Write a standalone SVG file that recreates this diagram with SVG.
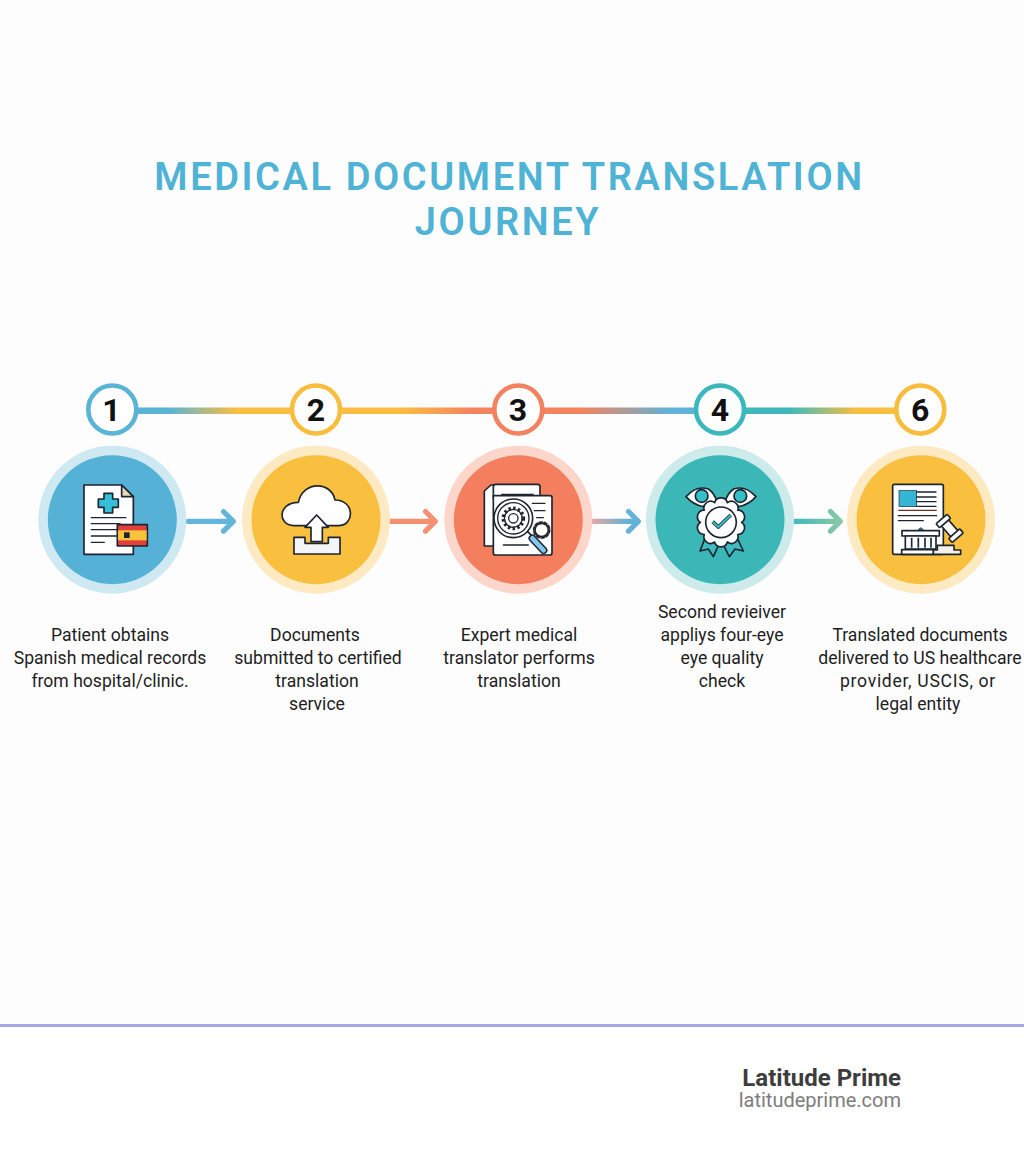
<svg xmlns="http://www.w3.org/2000/svg" width="1024" height="1154" viewBox="0 0 1024 1154">
<style>
text{font-family:Roboto,"Liberation Sans",sans-serif}
.title{font-size:38px;font-weight:600;fill:#4fb3d5;text-anchor:middle;letter-spacing:2.6px}
.num{font-size:32px;font-weight:700;fill:#111;text-anchor:middle}
.cap{font-size:17.6px;fill:#1e1e1e;text-anchor:middle}
.ol{stroke:#1d2530;stroke-width:5;stroke-linejoin:round;stroke-linecap:round}
.w{fill:#fff}
.ln{fill:none;stroke:#1d2530;stroke-width:4;stroke-linecap:round}
.bar{fill:none;stroke-width:6.500}
.arr{fill:none;stroke-width:5.200;stroke-linecap:round;stroke-linejoin:round}
.badge{fill:#fff;stroke-width:4.600}
</style>
<defs>
<linearGradient id="l1" gradientUnits="userSpaceOnUse" x1="138" y1="0" x2="290" y2="0"><stop offset=".2" stop-color="#5ab4d6"/><stop offset=".65" stop-color="#f9bf40"/></linearGradient>
<linearGradient id="l2" gradientUnits="userSpaceOnUse" x1="342" y1="0" x2="492" y2="0"><stop offset=".4" stop-color="#fbbd40"/><stop offset=".85" stop-color="#f5835f"/></linearGradient>
<linearGradient id="l3" gradientUnits="userSpaceOnUse" x1="544" y1="0" x2="694" y2="0"><stop offset=".25" stop-color="#f5835f"/><stop offset=".85" stop-color="#5fb3da"/></linearGradient>
<linearGradient id="l4" gradientUnits="userSpaceOnUse" x1="746" y1="0" x2="894" y2="0"><stop offset=".3" stop-color="#3fb9bc"/><stop offset=".75" stop-color="#f9bf40"/></linearGradient>
<linearGradient id="a3" gradientUnits="userSpaceOnUse" x1="592" y1="0" x2="640" y2="0"><stop offset="0" stop-color="#e3a9a0"/><stop offset=".75" stop-color="#63b2da"/></linearGradient>
<linearGradient id="a4" gradientUnits="userSpaceOnUse" x1="795" y1="0" x2="842" y2="0"><stop offset="0" stop-color="#45b9bc"/><stop offset="1" stop-color="#8bc9a4"/></linearGradient>
</defs>
<rect width="1024" height="1154" fill="#fdfdfd"/>
<rect y="1026" width="1024" height="128" fill="#fff"/>
<rect y="1024" width="1024" height="3" fill="#aaa7e0"/>
<g id="title">
<text class="title" x="509.500" y="190">MEDICAL DOCUMENT TRANSLATION</text>
<text class="title" x="508" y="235">JOURNEY</text>
</g>
<g id="connectors">
<path class="bar" stroke="url(#l1)" d="M136 410.700H292"/>
<path class="bar" stroke="url(#l2)" d="M340 410.700H494"/>
<path class="bar" stroke="url(#l3)" d="M542 410.700H696"/>
<path class="bar" stroke="url(#l4)" d="M744 410.700H896"/>
<path class="arr" stroke="#63b5db" d="M188 521.300H232M223.500 511.500l9.800 9.800L223.500 531.100"/>
<path class="arr" stroke="#f59072" d="M391 521.300H435M425.500 511.500l9.800 9.800L425.500 531.100"/>
<path class="arr" stroke="url(#a3)" d="M593 521.300H637M628.500 511.500l9.800 9.800L628.500 531.100"/>
<path class="arr" stroke="url(#a4)" d="M795 521.300H839M830.500 511.500l9.800 9.800L830.500 531.100"/>
</g>
<g id="step1">
<circle class="badge" cx="112.300" cy="409.500" r="24" stroke="#5ab4d6"/>
<text class="num" x="111.500" y="421">1</text>
<circle cx="112.300" cy="519.700" r="74" fill="#cfe9f2"/>
<circle cx="112.300" cy="519.700" r="64.500" fill="#55b1d6"/>
<g transform="translate(70 475) scale(.3333)">
<path class="ol w" d="M42 30H155L190 65V238H42Z"/>
<path class="ol" fill="#e6d8bd" d="M155 30V65H190Z"/>
<path class="ol" fill="#35c0d8" d="M102 55H128V72H145V97H128V114H102V97H85V72H102Z"/>
<path class="ln" d="M64 128H168M64 146H150M64 164H150M64 183H150M64 202H103"/>
<rect class="ol" x="142" y="149" width="90" height="64" fill="#e53f3d"/>
<rect x="144" y="166" width="86" height="30" fill="#f9c23c"/>
<rect x="162" y="172" width="17" height="17" fill="#1d2530"/>
</g>
<text class="cap"><tspan x="110" y="640.500">Patient obtains</tspan><tspan x="110" y="663.500">Spanish medical records</tspan><tspan x="110" y="686.500">from hospital/clinic.</tspan></text>
</g>
<g id="step2">
<circle class="badge" cx="316" cy="409.500" r="24" stroke="#f9bd3d"/>
<text class="num" x="316" y="421">2</text>
<circle cx="316" cy="519.700" r="74" fill="#fdeac3"/>
<circle cx="316" cy="519.700" r="64.500" fill="#f9bf3e"/>
<g transform="translate(270 475) scale(.3333)">
<path class="ol w" d="M72 152C20 150 25 82 85 82C100 15 185 20 195 75C255 75 255 152 205 152Z"/>
<path class="ol" fill="#f4f5f6" d="M72 187H105V205H175V187H210V237H72Z"/>
<path class="ol w" d="M140 120L175 157H157V200H123V157H105Z"/>
</g>
<text class="cap"><tspan x="315" y="640.500">Documents</tspan><tspan x="318" y="663.500">submitted to certified</tspan><tspan x="317" y="686.500">translation</tspan><tspan x="317" y="709.500">service</tspan></text>
</g>
<g id="step3">
<circle class="badge" cx="518.300" cy="409.500" r="24" stroke="#f4815f"/>
<text class="num" x="518" y="421">3</text>
<circle cx="518.300" cy="519.700" r="74" fill="#fcd6cb"/>
<circle cx="518.300" cy="519.700" r="64.500" fill="#f47f5f"/>
<g transform="translate(475 475) scale(.3333)">
<path class="ol w" d="M28 48L48 30H60V213H28Z"/>
<path class="ol w" d="M55 35Q55 28 62 28H188Q195 28 195 35V70H55Z"/>
<path class="ol w" d="M55 62H225Q231 62 231 68V233Q231 240 224 240H62Q55 240 55 233Z"/>
<path class="ln" d="M80 58H175M172 85H210M178 107H210M185 128H205M85 210H160"/>
<circle class="ol" cx="200" cy="165" r="24" fill="#f47f5f" stroke-dasharray="9 6" stroke-width="12" stroke-linecap="butt"/>
<circle class="ol w" cx="200" cy="165" r="20"/>
<circle class="ol w" cx="115" cy="130" r="58"/>
<circle class="ln" cx="115" cy="130" r="47"/>
<circle cx="115" cy="130" r="30" fill="none" stroke="#1d2530" stroke-width="11" stroke-dasharray="7 7"/>
<circle class="ln w" cx="115" cy="130" r="27"/>
<circle class="ln w" cx="115" cy="130" r="14"/>
<path d="M158 170L170 182" class="ol" fill="none" stroke-width="8"/>
<path d="M172 190L206 226" fill="none" stroke="#1d2530" stroke-width="23" stroke-linecap="round"/>
<path d="M172 190L206 226" fill="none" stroke="#83c8ec" stroke-width="14" stroke-linecap="round"/>
</g>
<text class="cap"><tspan x="519" y="640.500">Expert medical</tspan><tspan x="519" y="663.500">translator performs</tspan><tspan x="519" y="686.500">translation</tspan></text>
</g>
<g id="step4">
<circle class="badge" cx="720" cy="409.500" r="24" stroke="#3bb8bd"/>
<text class="num" x="720" y="421">4</text>
<circle cx="720" cy="519.700" r="74" fill="#cdebeb"/>
<circle cx="720" cy="519.700" r="64.500" fill="#3bb7b8"/>
<g transform="translate(680 475) scale(.3333)">
<path class="ol" fill="#3fbcc0" d="M75 190L60 228L85 222L100 245L118 205Z"/>
<path class="ol" fill="#3fbcc0" d="M172 190L190 228L165 222L148 245L128 205Z"/>
<path class="ol w" d="M18 65Q50 30 85 42Q105 55 112 85Q90 97 70 95Q40 90 18 65Z"/>
<path class="ol w" d="M228 65Q196 30 161 42Q141 55 134 85Q156 97 176 95Q206 90 228 65Z"/>
<circle class="ol" cx="65" cy="63" r="19" fill="#35bfc9"/>
<circle class="ol" cx="181" cy="63" r="19" fill="#35bfc9"/>
<path class="ol w" d="M185 142A20 20 0 0 1 173.200 178.400A20 20 0 0 1 142.200 201A20 20 0 0 1 103.800 201A20 20 0 0 1 72.800 178.400A20 20 0 0 1 61 142A20 20 0 0 1 72.800 105.600A20 20 0 0 1 103.800 83A20 20 0 0 1 142.200 83A20 20 0 0 1 173.200 105.600A20 20 0 0 1 185 142Z"/>
<circle class="ol w" cx="123" cy="142" r="46"/>
<path d="M98 140L115 156L152 120" fill="none" stroke="#1d2530" stroke-width="11" stroke-linejoin="round"/>
<path d="M98 140L115 156L152 120" fill="none" stroke="#35c0cc" stroke-width="6" stroke-linejoin="round"/>
</g>
<text class="cap"><tspan x="722" y="618">Second revieiver</tspan><tspan x="722" y="641">appliys four-eye</tspan><tspan x="722" y="664">eye quality</tspan><tspan x="722" y="687">check</tspan></text>
</g>
<g id="step6">
<circle class="badge" cx="920.300" cy="409.500" r="24" stroke="#f9bd3d"/>
<text class="num" x="920.300" y="421">6</text>
<circle cx="921" cy="519.700" r="74" fill="#fdeac3"/>
<circle cx="921" cy="519.700" r="64.500" fill="#f9bf3e"/>
<g transform="translate(880 475) scale(.3333)">
<rect class="ol w" x="38" y="28" width="152" height="210" rx="5"/>
<rect x="57" y="47" width="53" height="48" fill="#35b5d5" stroke="#1d2530" stroke-width="2"/>
<path class="ln" d="M110 51H168M110 66H168M110 80H168M110 94H168M55 122H170M55 137H130"/>
<path d="M55 106H170" stroke="#6b2f26" stroke-width="4" fill="none"/>
<path d="M115 165Q122 152 130 165Z" fill="#3f8fb0" stroke="#1d2530" stroke-width="2"/>
<rect class="ol w" x="66" y="167" width="112" height="16"/>
<path class="ol w" d="M76 183H168V222H76Z"/>
<path d="M95 188V218M115 188V218M135 188V218M153 188V218" stroke="#1d2530" stroke-width="5" fill="none"/>
<rect class="ol w" x="65" y="224" width="96" height="14"/>
<path class="ol" fill="#f4f1ea" d="M172 220V211H222V225H242V238H160V225H172Z"/>
<g transform="translate(209 160) rotate(-40.800)">
<rect class="ol w" x="-14" y="-22" width="28" height="44"/>
<rect class="ol w" x="-22" y="-37" width="44" height="16" rx="3"/>
<rect class="ol w" x="-22" y="21" width="44" height="16" rx="3"/>
</g>
</g>
<text class="cap"><tspan x="920" y="640.500">Translated documents</tspan><tspan x="920" y="663.500">delivered to US healthcare</tspan><tspan x="918" y="686.500" letter-spacing=".7">provider, USCIS, or</tspan><tspan x="918" y="709.500">legal entity</tspan></text>
</g>
<g id="brand">
<text x="901" y="1086" text-anchor="end" font-size="24" font-weight="700" fill="#3d3d3d">Latitude Prime</text>
<text x="901" y="1107" text-anchor="end" font-size="20" fill="#7d7d7d">latitudeprime.com</text>
</g>
</svg>
